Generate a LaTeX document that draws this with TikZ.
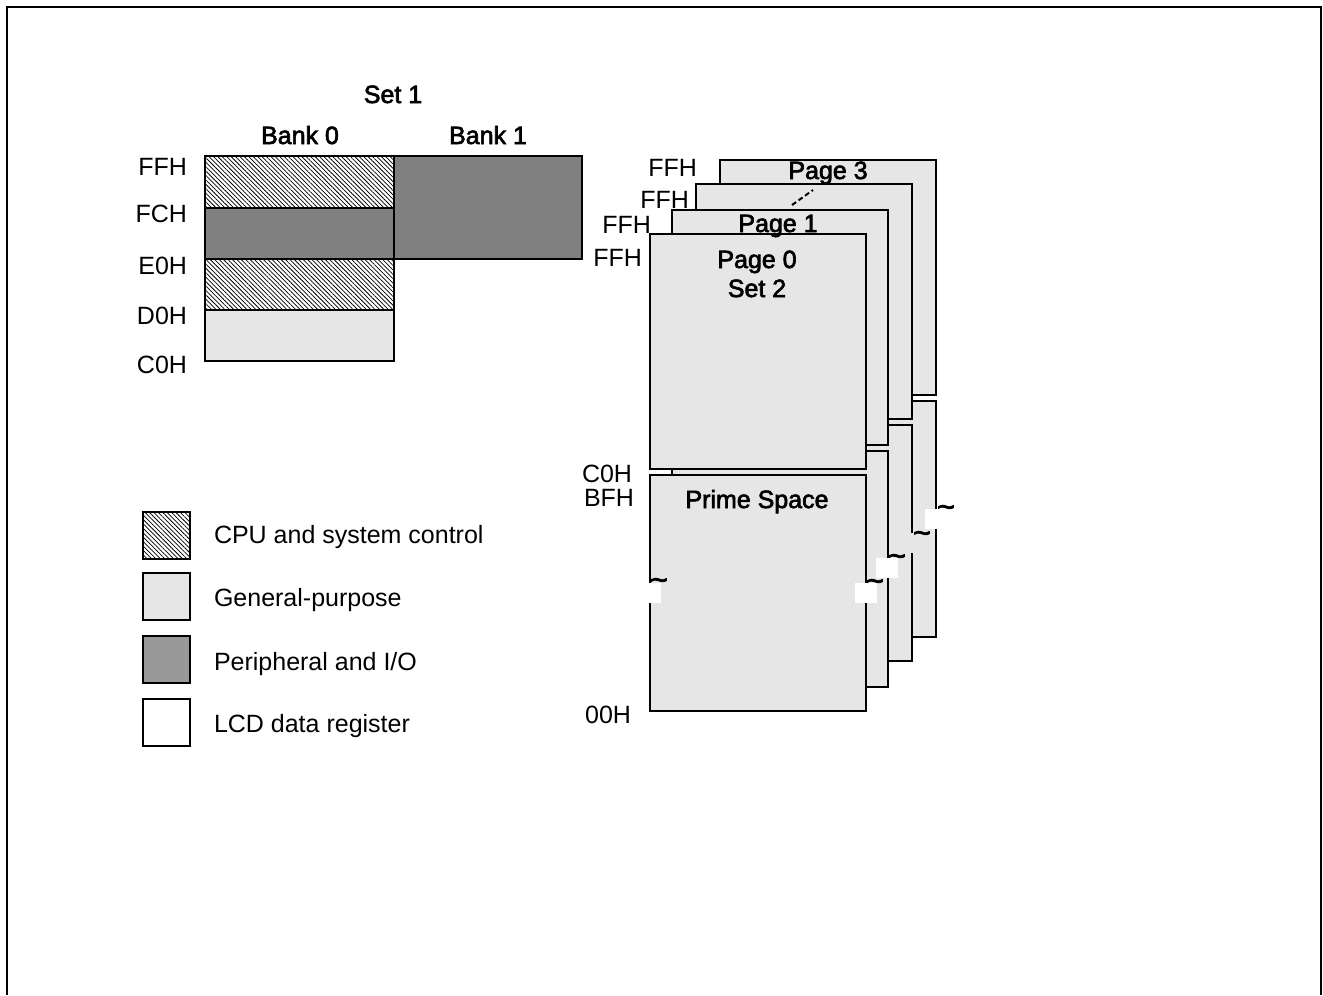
\documentclass[tikz,border=0pt]{standalone}
\usepackage{fontspec}
\setmainfont{Liberation Sans}
\newfontfamily\heavyfont[FakeBold=2.5]{Liberation Sans}
\usepackage{tikz}
\usepackage{xcolor}
\usetikzlibrary{patterns.meta}
\definecolor{genpurpose}{HTML}{E6E6E6}
\definecolor{periph}{HTML}{808080}
\definecolor{periphkey}{HTML}{999999}

\begin{document}
\begin{tikzpicture}[x=0.4pt,y=-0.4pt,line width=0.8pt,
                    cpu/.style={draw,pattern={Lines[angle=-45,distance=1.25pt,line width=0.3pt]}},
                    gen/.style={draw,fill=genpurpose},
                    per/.style={draw,fill=periph},
                    label/.style={inner sep=0pt,text height=7.2pt,text depth=0pt},
                    title/.style={label,font=\heavyfont},
                    addr/.style={label,anchor=east},
                    keytext/.style={label,anchor=west},
                    wave/.style={inner sep=0pt,font=\heavyfont\large}]
                    \useasboundingbox (0,0) rectangle (1323,995);
                    \draw (7,995) -- (7,7) -- (1321,7) -- (1321,995);
                    % set 1
                    \draw[cpu] (205,156) rectangle (394,208);
                    \draw[per] (205,208) rectangle (394,259);
                    \draw[cpu] (205,259) rectangle (394,310);
                    \draw[gen] (205,310) rectangle (394,361);
                    \draw[per] (394,156) rectangle (582,259);
                    \node[title] (set1) at (393,94) {Set 1};
                    \node[title] (bank0) at (300,135) {Bank 0};
                    \node[title] (bank1) at (488,135) {Bank 1};
                    \foreach \name/\y/\txt in {ffh/166/FFH, fch/213/FCH, eoh/265/E0H, doh/315/D0H, coh/364/C0H}
                        \node[addr] (\name) at (188,\y) {\txt};
                    % set 2 pages
                    \foreach \k/\l/\t in {3/720/160, 2/696/184, 1/672/210, 0/650/234} {
                        \draw[gen] (\l,\t) rectangle ++(216,235);
                        \draw[gen] (\l,\t+241) rectangle ++(216,236);
                    }
                    \foreach \x/\y/\c in {855/583/white, 876/558/white, 900/533/genpurpose, 925/509/white}
                        \fill[\c] (\x,\y) rectangle ++(22,20);
                    \fill[white] (648,583) rectangle (661,603);
                    \foreach \name/\x/\y in {wavea/659/584, waveb/875/585, wavec/897/560, waved/922/537, wavee/946/511}
                        \node[wave] (\name) at (\x,\y) {\textasciitilde};
                    \node[title] (page3) at (828,170) {Page 3};
                    \node[title] (page1) at (778,223) {Page 1};
                    \node[title] (page0) at (757,259) {Page 0};
                    \node[title] (set2) at (757,288) {Set 2};
                    \node[title] (prime) at (757,499) {Prime Space};
                    \coordinate (dashlo) at (792,205);
                    \coordinate (dashhi) at (813,190);
                    \draw[dash pattern=on 2pt off 1.2pt] (dashlo) -- (dashhi);
                    \foreach \name/\x/\y/\txt in {ffhc/698/167/FFH, ffhb/690/199/FFH, ffha/652/224/FFH, ffho/643/257/FFH,
                                                  cohp/633/473/C0H, bfh/635/497/BFH, zeroh/632/714/00H}
                        \node[addr] (\name) at (\x,\y) {\txt};
                    % key
                    \draw[cpu] (143,512) rectangle (190,559);
                    \draw[gen] (143,573) rectangle (190,620);
                    \draw[draw,fill=periphkey] (143,636) rectangle (190,683);
                    \draw (143,699) rectangle (190,746);
                    \node[keytext] (keycpu) at (213,534) {CPU and system control};
                    \node[keytext] (keygen) at (213,597) {General-purpose};
                    \node[keytext] (keyper) at (213,661) {Peripheral and I/O};
                    \node[keytext] (keylcd) at (213,723) {LCD data register};
                \end{tikzpicture}
\end{document}
